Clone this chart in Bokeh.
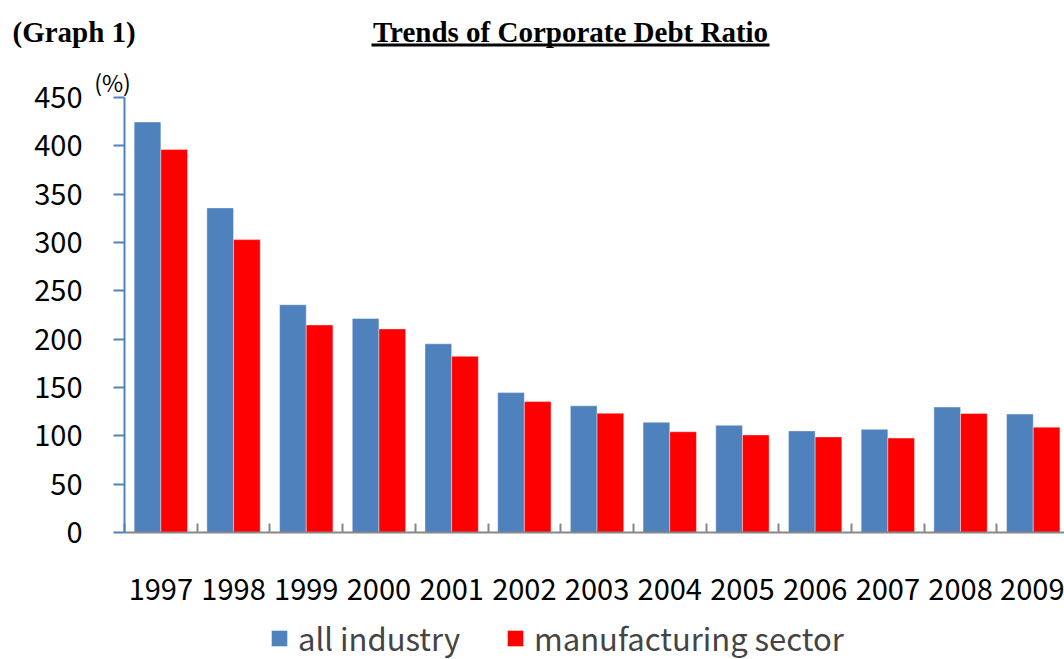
from bokeh.plotting import figure
from bokeh.models import (ColumnDataSource, Range1d, FixedTicker, Label, Arrow,
                          Legend, LegendItem)
from bokeh.transform import dodge
from bokeh.embed import file_html
from bokeh.resources import INLINE

years = ["1997", "1998", "1999", "2000", "2001", "2002", "2003",
         "2004", "2005", "2006", "2007", "2008", "2009"]
all_industry = [424.6, 335.8, 235.6, 221.4, 195.2, 144.7, 131.0,
                114.0, 110.9, 105.1, 106.7, 129.8, 122.5]
manufacturing = [396.3, 303.0, 214.7, 210.6, 182.2, 135.4, 123.4,
                 104.2, 100.9, 98.9, 97.7, 123.1, 109.0]
y_ticks = [0, 50, 100, 150, 200, 250, 300, 350, 400, 450]

BLUE = "#4F81BD"
RED = "#FF0000"
NUM_FONT = "Noto Sans CJK KR"
SERIF = "Liberation Serif"

W, H = 1064, 659
# picture geometry: category width and y scale, frame covers the whole canvas
CAT_PX = 72.7
AX_X = 124.0      # y-axis pixel position
AX_Y = 532.0      # x-axis pixel position
KY = 435.0 / 450.0

x0 = -0.5 - AX_X / CAT_PX
x1 = x0 + W / CAT_PX
y1 = AX_Y / KY
y0 = -(H - AX_Y) / KY


def dx(px):
    return x0 + px / CAT_PX


def dy(py):
    return (AX_Y - py) / KY


idx = list(range(len(years)))
src = ColumnDataSource(dict(x=idx, all=all_industry, mfg=manufacturing, year=years))

p = figure(width=W, height=H, output_backend="svg", toolbar_location=None,
           x_range=Range1d(x0, x1), y_range=Range1d(y0, y1), min_border=0)
p.outline_line_color = None
p.xgrid.visible = False
p.ygrid.visible = False
p.background_fill_color = "white"
p.border_fill_color = "white"

bw = 0.367
r1 = p.vbar(x=dodge("x", -bw / 2, range=p.x_range), top="all", width=bw, source=src,
            fill_color=BLUE, line_color="white", line_alpha=0.4, line_width=1)
r2 = p.vbar(x=dodge("x", bw / 2, range=p.x_range), top="mfg", width=bw, source=src,
            fill_color=RED, line_color="white", line_alpha=0.4, line_width=1)

# y axis
ya = p.yaxis[0]
ya.fixed_location = -0.5
ya.bounds = (0, 450)
ya.ticker = FixedTicker(ticks=y_ticks)
ya.axis_line_color = BLUE
ya.axis_line_width = 2
ya.major_tick_line_color = BLUE
ya.major_tick_line_width = 2
ya.major_tick_out = 11
ya.major_tick_in = 0
ya.minor_tick_line_color = None
ya.major_label_text_font = NUM_FONT
ya.major_label_text_font_size = "29px"
ya.major_label_text_color = "black"
ya.major_label_standoff = 31

# x axis
xa = p.xaxis[0]
xa.fixed_location = 0
xa.bounds = (-0.5, 13)
xa.ticker = FixedTicker(ticks=idx, minor_ticks=[i - 0.5 for i in range(len(years) + 1)])
xa.major_label_overrides = {i: y for i, y in zip(idx, years)}
xa.axis_line_color = "#878787"
xa.axis_line_width = 2
xa.major_tick_line_color = None
xa.major_tick_in = 0
xa.major_tick_out = 0
xa.minor_tick_line_color = "#878787"
xa.minor_tick_line_width = 2
xa.minor_tick_in = 9
xa.minor_tick_out = 0
xa.major_label_text_font = NUM_FONT
xa.major_label_text_font_size = "29px"
xa.major_label_text_color = "black"
xa.major_label_standoff = 46

p.add_layout(Label(x=dx(12), y=dy(31), text="(Graph 1)", text_font=SERIF,
                   text_font_style="bold", text_font_size="29px", text_color="black",
                   text_baseline="alphabetic", text_align="left"))
p.add_layout(Label(x=dx(570), y=dy(31), text="Trends of Corporate Debt Ratio",
                   text_font=SERIF, text_font_style="bold",
                   text_font_size="29px", text_color="black",
                   text_baseline="alphabetic", text_align="center"))
p.add_layout(Arrow(end=None, x_start=dx(371), y_start=dy(44.5), x_end=dx(769),
                   y_end=dy(44.5), line_width=3, line_color="black"))
p.add_layout(Label(x=dx(112), y=dy(81), text="(%)", text_font=NUM_FONT,
                   text_font_size="23px", text_color="black",
                   text_baseline="middle", text_align="center"))

legend = Legend(items=[LegendItem(label="all industry", renderers=[r1]),
                       LegendItem(label="manufacturing sector", renderers=[r2])],
                orientation="horizontal", location=(269, -1),
                label_text_font=NUM_FONT, label_text_font_size="31px",
                glyph_width=20, glyph_height=20, label_standoff=9, spacing=0,
                label_height=36, label_width=207,
                padding=0, margin=0, border_line_color=None,
                background_fill_alpha=0)
p.add_layout(legend, "center")

open("out.html", "w").write(file_html(p, INLINE))
